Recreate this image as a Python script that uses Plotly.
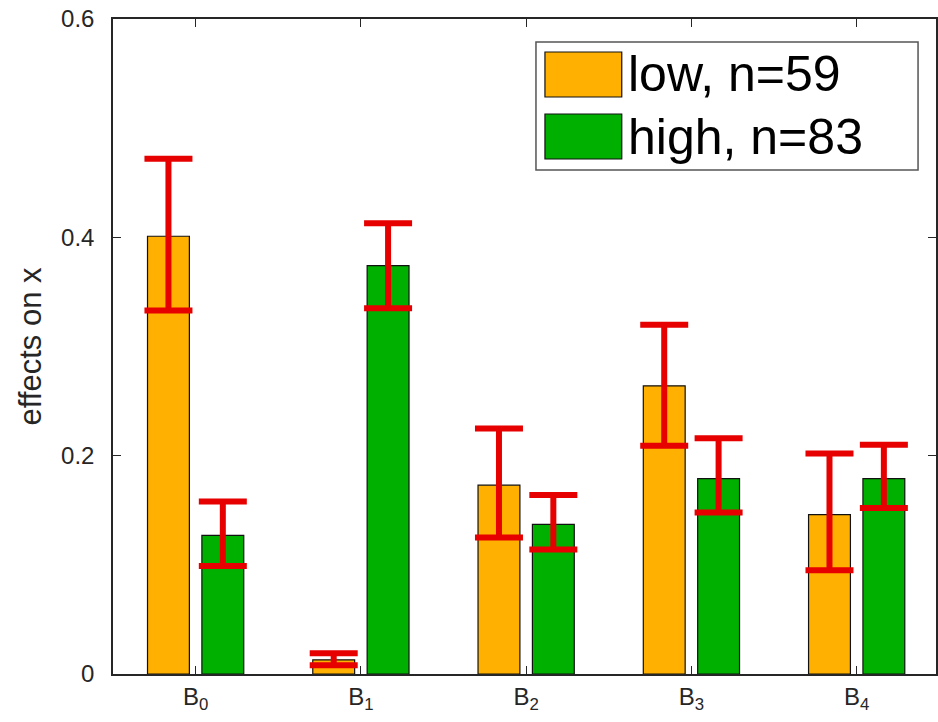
import plotly.graph_objects as go

categories = ["B<sub>0</sub>", "B<sub>1</sub>", "B<sub>2</sub>", "B<sub>3</sub>", "B<sub>4</sub>"]
series_names = ["low, n=59", "high, n=83"]
low_vals = [0.401, 0.013, 0.173, 0.264, 0.146]
low_upper = [0.472, 0.019, 0.225, 0.320, 0.202]
low_lower = [0.333, 0.008, 0.125, 0.209, 0.095]
high_vals = [0.127, 0.374, 0.137, 0.179, 0.179]
high_upper = [0.158, 0.413, 0.164, 0.216, 0.210]
high_lower = [0.099, 0.335, 0.114, 0.148, 0.152]
y_ticks = [0, 0.2, 0.4, 0.6]
y_tick_labels = ["0", "0.2", "0.4", "0.6"]

colors = ["#FFB000", "#00B000"]
err_color = "#E60000"
axis_color = "#262626"
FONT = "Liberation Sans, Arial, Helvetica, sans-serif"

W, H = 938, 722
ML, MT, MB, MR = 113, 19, 48, 0
PW = W - ML - MR
PH = H - MT - MB

xpos = list(range(len(categories)))

fig = go.Figure()
for name, vals, up, lo, col in [
    (series_names[0], low_vals, low_upper, low_lower, colors[0]),
    (series_names[1], high_vals, high_upper, high_lower, colors[1]),
]:
    fig.add_trace(go.Bar(
        x=xpos, y=vals, name=name,
        marker=dict(color=col, line=dict(color="#111111", width=1.2)),
        error_y=dict(type="data", symmetric=False,
                     array=[u - v for u, v in zip(up, vals)],
                     arrayminus=[v - l for v, l in zip(vals, lo)],
                     color=err_color, thickness=6, width=24),
        showlegend=False,
    ))

def px(x):
    return (x - ML) / PW

def py(y):
    return (H - MB - y) / PH

shapes = [
    dict(type="rect", xref="paper", yref="paper",
         x0=px(537), x1=px(920), y0=py(170), y1=py(42),
         line=dict(color="#555555", width=1.5), fillcolor="white", layer="above"),
]
annotations = []
sw_rows = [(52, 97), (114, 159)]
for i, (t, b) in enumerate(sw_rows):
    shapes.append(dict(type="rect", xref="paper", yref="paper",
                       x0=px(546), x1=px(623), y0=py(b), y1=py(t),
                       line=dict(color="#111111", width=1.2), fillcolor=colors[i], layer="above"))
    annotations.append(dict(xref="paper", yref="paper", x=px(627), y=py((t + b) / 2),
                            text=series_names[i], showarrow=False, xanchor="left", yanchor="middle",
                            font=dict(family=FONT, size=50, color="#000000")))

fig.update_layout(
    width=W, height=H,
    margin=dict(l=ML, r=MR, t=MT, b=MB, pad=0),
    paper_bgcolor="white", plot_bgcolor="white",
    barmode="group", bargap=0.342, bargroupgap=0.23,
    shapes=shapes, annotations=annotations,
    font=dict(family=FONT, size=24, color=axis_color),
    xaxis=dict(range=[-0.5, 4.48], tickvals=xpos, ticktext=categories,
               showgrid=False, zeroline=False, showline=True, linecolor=axis_color, linewidth=1.5,
               mirror="ticks", ticks="inside", ticklen=8, tickcolor=axis_color, tickwidth=1.2,
               tickfont=dict(family=FONT, size=24, color=axis_color)),
    yaxis=dict(range=[0, 0.6], tickvals=y_ticks, ticktext=y_tick_labels,
               showgrid=False, zeroline=False, showline=True, linecolor=axis_color, linewidth=1.5,
               mirror="ticks", ticks="inside", ticklen=8, tickcolor=axis_color, tickwidth=1.2,
               ticklabelstandoff=12,
               tickfont=dict(family=FONT, size=24, color=axis_color),
               title=dict(text="effects on x", font=dict(family=FONT, size=31, color=axis_color),
                          standoff=10)),
)

fig.write_html("out.html")
